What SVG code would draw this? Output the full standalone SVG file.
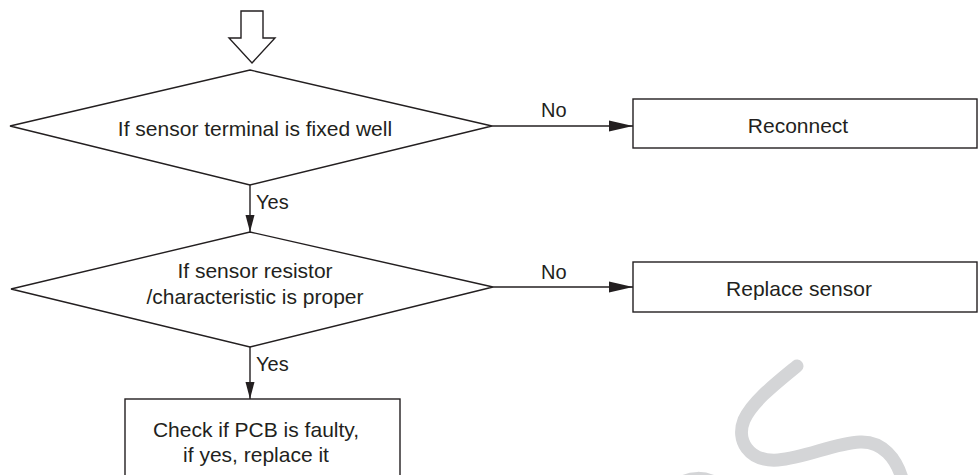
<svg xmlns="http://www.w3.org/2000/svg" width="978" height="475" viewBox="0 0 978 475">
<style>
.shape{fill:#fff;stroke:#231f20;stroke-width:1.4}
.line{fill:none;stroke:#231f20;stroke-width:1.4}
.t{font-family:"Liberation Sans",Arial,sans-serif;font-size:21px;fill:#231f20;text-anchor:middle}
.lbl{font-family:"Liberation Sans",Arial,sans-serif;font-size:20px;fill:#231f20}
.wm{fill:none;stroke:#d4d5d7;stroke-width:13;stroke-linecap:round}
</style>
<defs>
<marker id="ah" markerUnits="userSpaceOnUse" markerWidth="24" markerHeight="12" refX="24" refY="6" orient="auto">
<path d="M0,0.5 L24,6 L0,11.5 z" fill="#231f20"/>
</marker>
<marker id="av" markerUnits="userSpaceOnUse" markerWidth="17" markerHeight="10" refX="17" refY="5" orient="auto">
<path d="M0,0.5 L17,5 L0,9.5 z" fill="#231f20"/>
</marker>
</defs>
<g id="watermark">
<path class="wm" d="M797,366 C775,384 752,402 744,420 C736,440 748,462 778,460 C805,458 835,443 860,442 C882,441 897,458 903,482"/>
<path class="wm" d="M676,487 C688,476 706,475 722,487"/>
</g>
<g id="start">
<polygon class="shape" points="241,11 263,11 263,38 275,38 252,63 229,38 241,38"/>
</g>
<g id="connectors">
<path class="line" d="M492,126 L633,126" marker-end="url(#ah)"/>
<path class="line" d="M493,287 L633,287" marker-end="url(#ah)"/>
<path class="line" d="M250,185 L250,232" marker-end="url(#av)"/>
<path class="line" d="M250,347 L250,399" marker-end="url(#av)"/>
<text class="lbl" x="541" y="117">No</text>
<text class="lbl" x="541" y="279">No</text>
<text class="lbl" x="256" y="209">Yes</text>
<text class="lbl" x="256" y="371">Yes</text>
</g>
<g id="decision1">
<polygon class="shape" points="250,70 492,126 250,185 10,126"/>
<text class="t" x="255" y="136">If sensor terminal is fixed well</text>
</g>
<g id="reconnect">
<rect class="shape" x="633" y="99" width="344" height="49"/>
<text class="t" x="798" y="133">Reconnect</text>
</g>
<g id="decision2">
<polygon class="shape" points="250,232 493,287 250,347 11,289"/>
<text class="t" x="255" y="278">If sensor resistor</text>
<text class="t" x="255" y="304">/characteristic is proper</text>
</g>
<g id="replace">
<rect class="shape" x="633" y="262" width="344" height="50"/>
<text class="t" x="799" y="296">Replace sensor</text>
</g>
<g id="pcb">
<rect class="shape" x="125" y="399" width="275" height="90"/>
<text class="t" x="256" y="437">Check if PCB is faulty,</text>
<text class="t" x="256" y="462">if yes, replace it</text>
</g>
</svg>
